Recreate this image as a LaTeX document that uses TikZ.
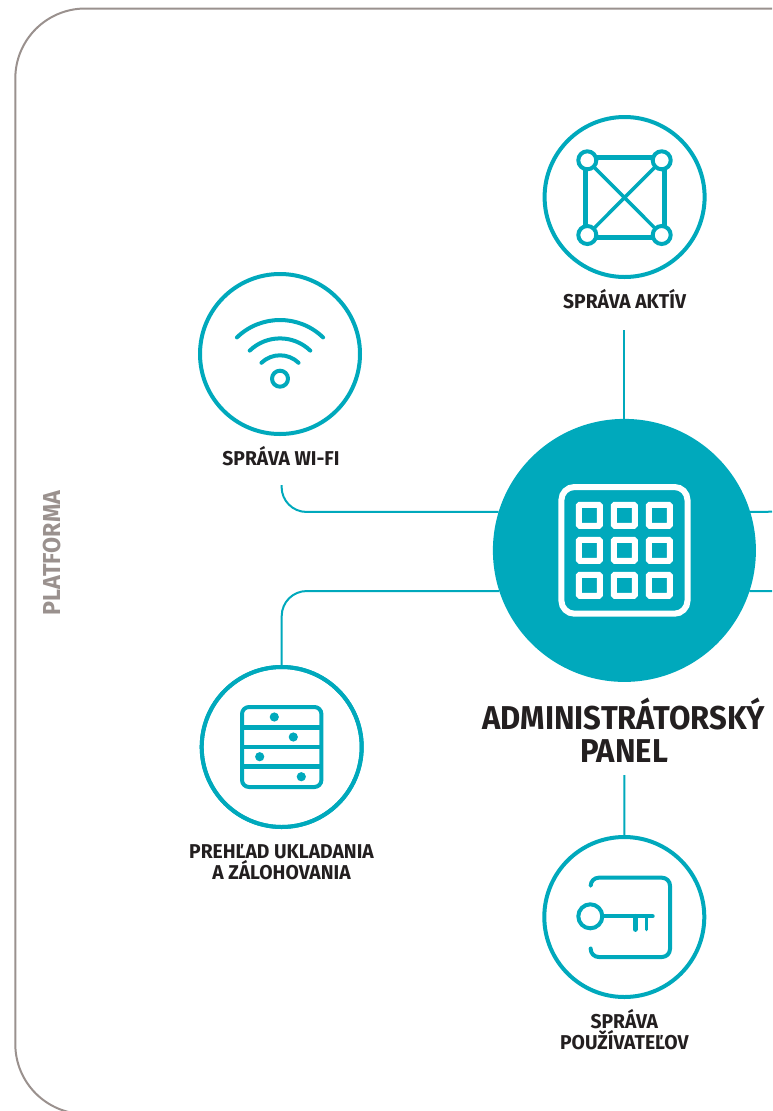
\documentclass[tikz,border=0pt]{standalone}
\usepackage{fontspec}
\setmainfont{Fira Sans}
\newfontfamily\labelfont[FakeStretch=0.965,BoldFont={Fira Sans Bold}]{Fira Sans}
\newfontfamily\titlefont[FakeStretch=0.94,BoldFont={Fira Sans Bold}]{Fira Sans}
\newfontfamily\sidefont[FakeStretch=0.95,BoldFont={Fira Sans Bold}]{Fira Sans}
\usetikzlibrary{positioning}

\definecolor{tealline}{HTML}{00A9BC}
\definecolor{framegrey}{HTML}{9A918E}
\definecolor{inkblack}{HTML}{231F20}

\tikzset{
  ring/.style={circle,draw=tealline,line width=4pt,fill=white,minimum size=160pt,inner sep=0pt,outer sep=0pt},
  hub/.style={circle,fill=tealline,minimum size=263pt,inner sep=0pt,outer sep=0pt},
  link/.style={draw=tealline,line width=2pt},
  glyph/.style={draw=tealline,line width=4pt,line cap=round,line join=round},
  caption/.style={font=\labelfont\bfseries\fontsize{20}{20.7}\selectfont,text=inkblack,align=center,inner sep=0pt,anchor=base},
  bigcaption/.style={font=\titlefont\bfseries\fontsize{33}{33.4}\selectfont,text=inkblack,align=center,inner sep=0pt,anchor=base}
}

\begin{document}
\begin{tikzpicture}[x=1pt,y=-1pt]

\clip (0,0) rectangle (772,1111);

\draw[framegrey,line width=2pt,rounded corners=70pt] (800,8.5) -- (15.3,8.5) -- (15.3,1114) -- (200,1114);
\node[font=\sidefont\bfseries\fontsize{24.5}{26}\selectfont,text=framegrey,rotate=90,inner sep=0pt] (platform) at (52,553) {PLATFORMA};

%% circles
\node[hub] (panel) at (624.4,550.4) {};
\node[ring] (assets) at (624.6,197) {};
\node[ring] (wifi) at (280,354) {};
\node[ring] (storage) at (281.7,747) {};
\node[ring] (users) at (624.3,917) {};

%% labels
\node[caption] (assetstext) at (624.6,308) {SPRÁVA AKTÍV};
\node[caption] (wifitext) at (281,465.7) {SPRÁVA WI-FI};
\node[caption] (storagetext) at (281.5,879.3) {PREHĽAD UKLADANIA\\A ZÁLOHOVANIA};
\node[caption] (userstext) at (624.3,1049.3) {SPRÁVA\\POUŽÍVATEĽOV};
\node[bigcaption] (paneltext) at (624,762.7) {ADMINISTRÁTORSKÝ\\PANEL};

%% connectors
\coordinate (assetsend) at (624.4,330);
\coordinate (wifiend) at (281.6,485);
\coordinate (usersend) at (624.4,775);
\coordinate (rightup) at (772,511.7);
\coordinate (rightdown) at (772,591);

\draw[link] (assetsend) -- (panel);
\draw[link] (usersend) -- (users);
\draw[link,rounded corners=25pt] (wifiend) |- (panel.163);
\draw[link,rounded corners=25pt] (storage) |- (panel.198);
\draw[link] (panel.17) -- (rightup);
\draw[link] (panel.-18) -- (rightdown);
\node[ring,fill=none] at (storage) {};

%% assets icon
\draw[tealline,line width=5pt] (585.3,157.7) rectangle (664,237.6);
\draw[tealline,line width=3.5pt] (587.3,160.3) -- (661.7,235) (661.7,160.3) -- (587.3,235);
\foreach \px/\py in {587.3/160.3,661.7/160.3,587.3/235,661.7/235}
  \draw[tealline,line width=4pt,fill=white] (\px,\py) circle (9pt);

%% wifi icon
\coordinate (wave) at (280,382);
\foreach \r in {62,43.6,26.7}
  \draw[glyph] ([shift={(134:\r pt)}]wave) arc (134:46:\r pt);
\draw[glyph] (280,378.7) circle (8pt);

%% panel icon
\draw[white,line width=6pt,rounded corners=13pt] (561.4,487) rectangle (687.5,613.7);
\foreach \px in {589.3,624.3,659.3}
  \foreach \py in {515.3,550.3,585.3}
    \draw[white,line width=6pt,rounded corners=1pt] (\px-10.5,\py-10.5) rectangle (\px+10.5,\py+10.5);

%% storage icon
\draw[glyph,rounded corners=7pt] (242,707) rectangle (321.4,787);
\foreach \py in {727.3,747,766.3}
  \draw[tealline,line width=4.5pt] (242,\py) -- (321.4,\py);
\foreach \px/\py in {274.3/717,293.3/737,259.7/756.7,301.3/776.7}
  \fill[tealline] (\px,\py) circle (4.6pt);

%% users icon
\draw[glyph,rounded corners=8pt] (590.7,885.5) |- (670,877.7) |- (590.7,957) -- (590.7,948.5);
\draw[glyph] (590.3,916.3) circle (12pt);
\draw[glyph] (602.3,916.3) -- (652.7,916.3);
\draw[glyph,line width=4.7pt] (635.3,916.3) -- (635.3,929.5);
\draw[glyph,line width=3.5pt] (646.7,916.3) -- (646.7,929.5);

\end{tikzpicture}
\end{document}
